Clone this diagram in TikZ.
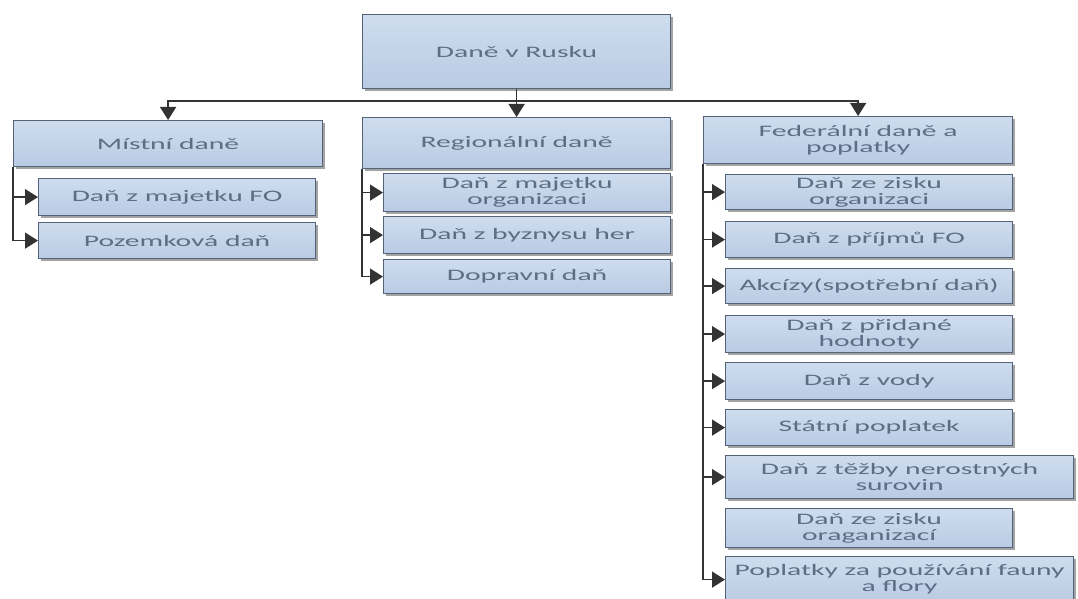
\documentclass[tikz,border=0pt]{standalone}
\usepackage{fontspec}
\setmainfont{Carlito}[FakeStretch=1.85]
\usetikzlibrary{arrows.meta,shadows}
\definecolor{boxtop}{HTML}{CEDCEE}
\definecolor{boxbot}{HTML}{B9CBE3}
\definecolor{boxline}{HTML}{55637A}
\definecolor{boxtext}{HTML}{5D6D83}
\definecolor{conncol}{HTML}{333333}
\tikzset{
  box/.style={draw=boxline, line width=1.2pt, top color=boxtop, bottom color=boxbot,
    inner sep=0pt, align=center, text=boxtext,
    font=\fontsize{16pt}{16pt}\selectfont,
    drop shadow={shadow xshift=2.5pt, shadow yshift=-2.5pt, fill=black!45, opacity=0.8}},
  conn/.style={draw=conncol, line width=1.4pt},
  tip/.style={-{Triangle[length=13pt,width=16pt]}}
}
\newcommand{\bx}[6]{\node[box, anchor=north west, minimum width={#4-#2}, minimum height={#5-#3}] (#1) at (#2,-#3) {#6};}
\begin{document}
\begin{tikzpicture}[x=1pt,y=1pt]
\useasboundingbox[fill=white] (0,0) rectangle (1078,-599);
\bx{top}{362}{14}{670}{88}{Daně v Rusku}
\bx{loc}{13}{120}{322}{166}{Místní daně}
\bx{loc1}{38}{178}{315}{215}{Daň z majetku FO}
\bx{loc2}{38}{222}{315}{258}{Pozemková daň}
\bx{reg}{362}{117}{670}{168}{Regionální daně}
\bx{reg1}{383}{173}{670}{211}{Daň z majetku\\organizaci}
\bx{reg2}{383}{216}{670}{253}{Daň z byznysu her}
\bx{reg3}{383}{259}{670}{293}{Dopravní daň}
\bx{fed}{703}{116}{1012}{163}{Federální daně a\\poplatky}
\bx{f1}{725}{174}{1012}{209}{Daň ze zisku\\organizaci}
\bx{f2}{725}{221}{1012}{257}{Daň z příjmů FO}
\bx{f3}{725}{268}{1012}{303}{Akcízy(spotřební daň)}
\bx{f4}{725}{315}{1012}{352}{Daň z přidané\\hodnoty}
\bx{f5}{725}{362}{1012}{399}{Daň z vody}
\bx{f6}{725}{409}{1012}{445}{Státní poplatek}
\bx{f7}{725}{455}{1073}{498}{Daň z těžby nerostných\\surovin}
\bx{f8}{725}{508}{1012}{547}{Daň ze zisku\\oraganizací}
\bx{f9}{725}{556}{1073}{602}{Poplatky za používání fauny\\a flory}
% top connectors
\draw[conn] (top.south) -- ++(0,-12) coordinate (j);
\draw[conn,tip] (j) -| (loc.north);
\draw[conn,tip] (j) -- (reg.north);
\draw[conn,tip] (j) -| (fed.north);
% children
\foreach \c in {loc1,loc2} \draw[conn,tip] (loc.south west) |- (\c.west);
\foreach \c in {reg1,reg2,reg3} \draw[conn,tip] (reg.south west) |- (\c.west);
\foreach \c in {f1,f2,f3,f4,f5,f6,f7,f9} \draw[conn,tip] (fed.south west) |- (\c.west);
\end{tikzpicture}
\end{document}
